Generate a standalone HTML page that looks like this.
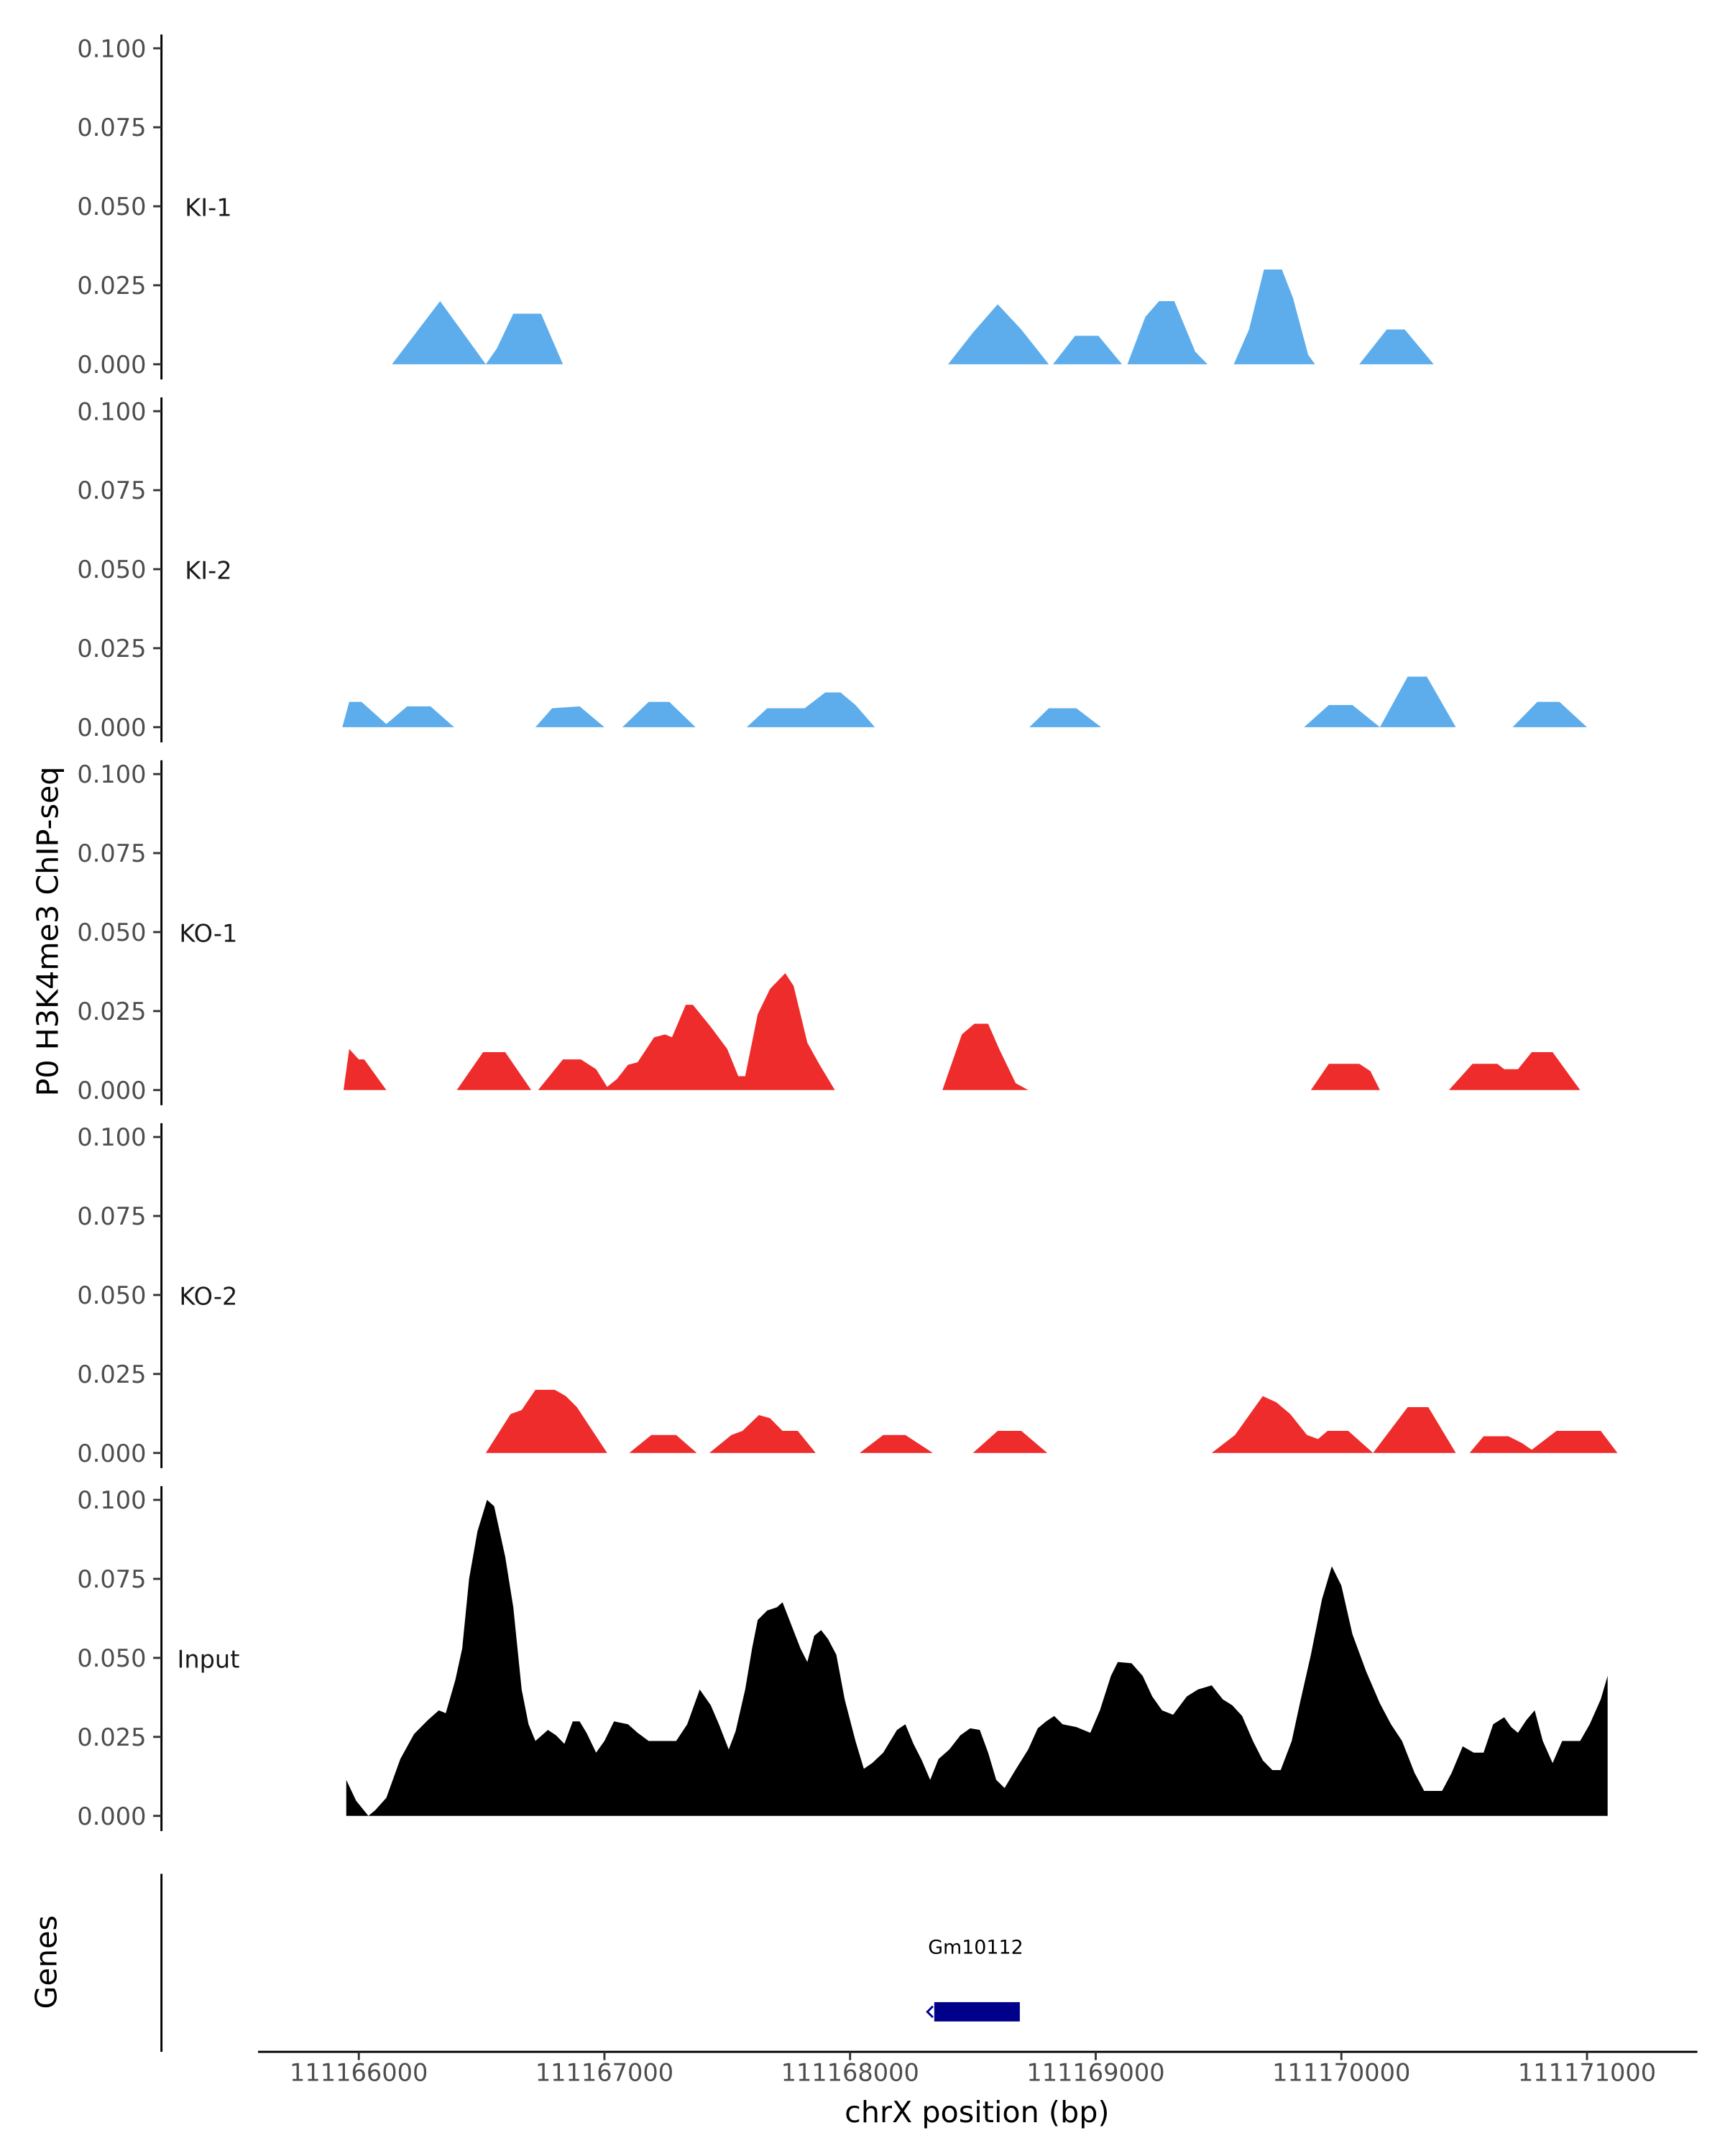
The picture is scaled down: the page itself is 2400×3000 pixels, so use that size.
<!DOCTYPE html>
<html><head><meta charset="utf-8"><style>
html,body{margin:0;padding:0;background:#fff;}
svg{display:block;font-family:"DejaVu Sans","Liberation Sans",sans-serif;}
</style></head><body>
<svg id="chart" xmlns="http://www.w3.org/2000/svg" width="2400" height="3000" viewBox="0 0 1250 1562.5">
<rect x="0" y="0" width="1250" height="1562.5" fill="#fff"/>
<g id="panels"></g>
<text x="42" y="675" transform="rotate(-90 42 675)" text-anchor="middle" font-size="21.5" fill="#000">P0 H3K4me3 ChIP-seq</text>
<text x="41" y="1422" transform="rotate(-90 41 1422)" text-anchor="middle" font-size="21.5" fill="#000">Genes</text>
<line x1="117" y1="1358" x2="117" y2="1487" stroke="#000" stroke-width="1.5"/>
<g>
<text x="707" y="1416" text-anchor="middle" font-size="14" fill="#000">Gm10112</text>
<rect x="677" y="1451" width="62" height="14" fill="#00008B"/>
<path d="M676 1454 L672 1458 L676 1462" stroke="#00008B" stroke-width="1.5" fill="none"/>
</g>
<line x1="187" y1="1487" x2="1230" y2="1487" stroke="#000" stroke-width="1.5"/>
<g id="xticks"></g>
<text x="708" y="1538" text-anchor="middle" font-size="21.5" fill="#000">chrX position (bp)</text>
</svg>
<script>
const START = 111166000;
const xTickValues = [111166000, 111167000, 111168000, 111169000, 111170000, 111171000];
const yTickValues = [0, 0.025, 0.05, 0.075, 0.1];
const yTickLabels = ["0.000", "0.025", "0.050", "0.075", "0.100"];
const trackNames = ["KI-1", "KI-2", "KO-1", "KO-2", "Input"];
const trackColors = ["#5dadec", "#5dadec", "#ee2c2c", "#ee2c2c", "#000000"];

const ki1Pos = [135,331,517,562,629,742,831,2399,2500,2601,2697,2809,2826,2916,3011,3107,3129,3202,3258,3320,3405,3455,3562,3624,3685,3758,3803,3865,3893,4073,4185,4258,4376];
const ki1Val = [0,.020,0,.005,.016,.016,0,0,.010,.019,.011,0,0,.009,.009,0,0,.015,.020,.020,.004,0,0,.011,.030,.030,.021,.003,0,0,.011,.011,0];

const ki2Pos = [-67,-39,11,112,197,292,388,719,787,899,1000,1073,1180,1264,1371,1579,1663,1815,1899,1961,2022,2101,2730,2809,2921,3022,3848,3949,4045,4157,4270,4348,4466,4697,4798,4888,5000];
const ki2Val = [0,.008,.008,.001,.0066,.0066,0,0,.006,.0066,0,0,.008,.008,0,0,.006,.006,.011,.011,.007,0,0,.006,.006,0,0,.007,.007,0,.016,.016,0,0,.008,.008,0];

const ko1Pos = [-62,-39,0,22,112,399,506,596,702,730,831,904,966,1011,1051,1096,1135,1202,1247,1275,1331,1360,1433,1500,1545,1573,1624,1674,1736,1770,1826,1876,1938,2376,2455,2506,2562,2607,2674,2725,3876,3949,4073,4118,4157,4438,4534,4635,4663,4719,4775,4860,4972];
const ko1Val = [0,.013,.0097,.0097,0,0,.012,.012,0,0,.0097,.0097,.0066,.001,.0035,.008,.0088,.0167,.0176,.0167,.027,.027,.020,.013,.0044,.0044,.024,.032,.037,.033,.015,.008,0,0,.0176,.021,.021,.013,.0022,0,0,.0083,.0083,.006,0,0,.0083,.0083,.0066,.0066,.012,.012,0];

const ko2Pos = [517,618,663,719,798,843,888,1011,1101,1191,1292,1376,1427,1517,1562,1629,1674,1725,1787,1860,2039,2135,2225,2337,2500,2601,2697,2803,3472,3567,3680,3736,3792,3860,3905,3944,4028,4129,4270,4354,4466,4522,4579,4680,4736,4775,4876,5056,5124];
const ko2Val = [0,.0123,.0136,.020,.020,.018,.0145,0,0,.0057,.0057,0,0,.0057,.007,.012,.011,.007,.007,0,0,.0057,.0057,0,0,.007,.007,0,0,.0057,.018,.016,.0123,.0057,.0044,.007,.007,0,.0145,.0145,0,0,.0053,.0053,.0031,.001,.007,.007,0];

const inputPos = [-51,-11,39,67,112,169,225,281,326,354,393,421,449,483,522,551,596,629,663,691,719,770,803,837,871,899,927,966,1000,1039,1096,1135,1180,1292,1337,1388,1433,1466,1506,1534,1573,1601,1624,1663,1702,1725,1753,1798,1826,1854,1882,1910,1944,1978,2022,2056,2090,2135,2191,2225,2258,2292,2326,2360,2404,2449,2489,2528,2562,2595,2629,2669,2725,2764,2798,2831,2865,2921,2978,3017,3062,3090,3146,3191,3230,3270,3315,3371,3416,3472,3517,3556,3596,3640,3680,3719,3753,3798,3831,3876,3921,3961,4000,4045,4101,4157,4202,4247,4298,4337,4410,4449,4494,4539,4579,4618,4663,4691,4719,4753,4787,4820,4860,4899,4972,5011,5056,5084];
const inputVal = [.0114,.0048,0,.0018,.0057,.018,.0259,.0303,.0334,.0325,.043,.053,.075,.090,.100,.098,.082,.066,.040,.029,.0237,.0272,.0255,.0228,.0299,.0299,.0263,.020,.0237,.0299,.029,.0263,.0237,.0237,.029,.040,.035,.029,.021,.0268,.040,.053,.062,.065,.066,.0676,.062,.053,.0487,.057,.0588,.056,.051,.0369,.0237,.0149,.0167,.020,.0272,.029,.0228,.0176,.0114,.018,.021,.0255,.0277,.0272,.020,.0114,.0088,.014,.021,.0277,.0299,.0316,.029,.0281,.0263,.0334,.0443,.0487,.0483,.0443,.0378,.0334,.032,.0378,.040,.0413,.0369,.035,.0316,.0237,.0176,.0145,.0145,.0237,.0356,.051,.0685,.079,.0729,.0575,.0457,.0356,.029,.0237,.0136,.0079,.0079,.0136,.022,.020,.020,.029,.0312,.0281,.0263,.0303,.0334,.0237,.0167,.0237,.0237,.029,.0369,.0443];

const trackPositions = [ki1Pos, ki2Pos, ko1Pos, ko2Pos, inputPos];
const trackValues = [ki1Val, ki2Val, ko1Val, ko2Val, inputVal];

const NS = "http://www.w3.org/2000/svg";
const panelBase = [264, 527, 790, 1053, 1316];
const panelH = 229;
function xScale(bp){ return 260 + (bp - 111166000) / 1000 * 178; }
function yScale(v, p){ return panelBase[p] - v / 0.1 * panelH; }

const panels = document.getElementById('panels');
for (let p = 0; p < trackNames.length; p++) {
  const g = document.createElementNS(NS, 'g');
  
  
  panels.appendChild(g);
  const base = panelBase[p];
  const ax = document.createElementNS(NS, 'line');
  ax.setAttribute('x1', 117); ax.setAttribute('x2', 117);
  ax.setAttribute('y1', base - 239); ax.setAttribute('y2', base + 11);
  ax.setAttribute('stroke', '#000'); ax.setAttribute('stroke-width', 1.5);
  
  
  g.appendChild(ax);
  for (let i = 0; i < yTickValues.length; i++) {
    const y = yScale(yTickValues[i], p);
    const t = document.createElementNS(NS, 'line');
    t.setAttribute('x1', 111); t.setAttribute('x2', 117);
    t.setAttribute('y1', y); t.setAttribute('y2', y);
    t.setAttribute('stroke', '#333'); t.setAttribute('stroke-width', 1.5);
    
    
    g.appendChild(t);
    const lb = document.createElementNS(NS, 'text');
    lb.setAttribute('x', 106); lb.setAttribute('y', y + 6.3);
    lb.setAttribute('text-anchor', 'end'); lb.setAttribute('font-size', '17.5');
    lb.setAttribute('fill', '#4d4d4d');
    lb.textContent = yTickLabels[i];
    
    
    g.appendChild(lb);
  }
  const nm = document.createElementNS(NS, 'text');
  nm.setAttribute('x', 151); nm.setAttribute('y', base - 114 + 6.5);
  nm.setAttribute('text-anchor', 'middle'); nm.setAttribute('font-size', '17.5');
  nm.setAttribute('fill', '#1a1a1a');
  nm.textContent = trackNames[p];
  
  
  g.appendChild(nm);
  const pos = trackPositions[p], val = trackValues[p];
  let d = 'M' + xScale(START + pos[0]).toFixed(2) + ' ' + base;
  for (let i = 0; i < pos.length; i++) {
    d += ' L' + xScale(START + pos[i]).toFixed(2) + ' ' + yScale(val[i], p).toFixed(2);
  }
  d += ' L' + xScale(START + pos[pos.length - 1]).toFixed(2) + ' ' + base + ' Z';
  const area = document.createElementNS(NS, 'path');
  area.setAttribute('d', d);
  area.setAttribute('fill', trackColors[p]);
  
  
  g.appendChild(area);
}

const xt = document.getElementById('xticks');
for (let i = 0; i < xTickValues.length; i++) {
  const x = xScale(xTickValues[i]);
  const t = document.createElementNS(NS, 'line');
  t.setAttribute('x1', x); t.setAttribute('x2', x);
  t.setAttribute('y1', 1487); t.setAttribute('y2', 1493);
  t.setAttribute('stroke', '#333'); t.setAttribute('stroke-width', 1.5);
  
  
  xt.appendChild(t);
  const lb = document.createElementNS(NS, 'text');
  lb.setAttribute('x', x); lb.setAttribute('y', 1508);
  lb.setAttribute('text-anchor', 'middle'); lb.setAttribute('font-size', '17.5');
  lb.setAttribute('fill', '#4d4d4d');
  lb.textContent = String(xTickValues[i]);
  
  
  xt.appendChild(lb);
}
</script>
</body></html>
